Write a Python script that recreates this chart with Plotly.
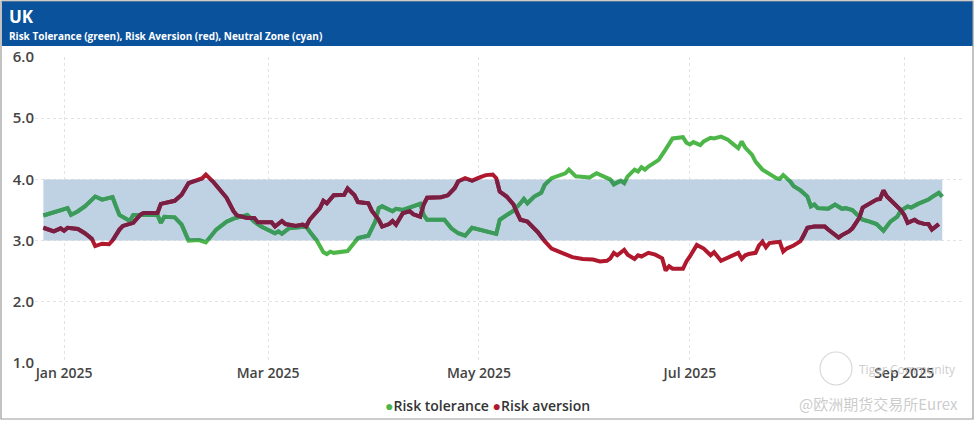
import plotly.graph_objects as go

# ---------------- data ----------------
tol_dates = ["2024-12-26","2024-12-30","2025-01-02","2025-01-03","2025-01-05","2025-01-07","2025-01-10","2025-01-12",
             "2025-01-15","2025-01-16","2025-01-17","2025-01-20","2025-01-21","2025-01-23","2025-01-28","2025-01-29",
             "2025-01-30","2025-02-02","2025-02-04","2025-02-06","2025-02-09","2025-02-11","2025-02-14","2025-02-17",
             "2025-02-19","2025-02-23","2025-02-25","2025-02-27","2025-03-02","2025-03-03","2025-03-04","2025-03-05",
             "2025-03-07","2025-03-11","2025-03-12","2025-03-13","2025-03-15","2025-03-17","2025-03-18","2025-03-19",
             "2025-03-20","2025-03-24","2025-03-27","2025-03-30","2025-04-01","2025-04-02","2025-04-03","2025-04-06",
             "2025-04-07","2025-04-09","2025-04-11","2025-04-14","2025-04-15","2025-04-16","2025-04-21","2025-04-23",
             "2025-04-25","2025-04-27","2025-04-29","2025-05-01","2025-05-03","2025-05-05","2025-05-06","2025-05-07",
             "2025-05-09","2025-05-11","2025-05-13","2025-05-14","2025-05-15","2025-05-17","2025-05-19","2025-05-20",
             "2025-05-22","2025-05-25","2025-05-26","2025-05-27","2025-05-29","2025-06-02","2025-06-04","2025-06-06",
             "2025-06-08","2025-06-09","2025-06-11","2025-06-12","2025-06-13","2025-06-15","2025-06-16","2025-06-17",
             "2025-06-18","2025-06-19","2025-06-22","2025-06-24","2025-06-26","2025-06-29","2025-06-30","2025-07-01",
             "2025-07-02","2025-07-04","2025-07-05","2025-07-07","2025-07-08","2025-07-10","2025-07-12","2025-07-13",
             "2025-07-15","2025-07-16","2025-07-17","2025-07-19","2025-07-20","2025-07-22","2025-07-24","2025-07-26",
             "2025-07-27","2025-07-28","2025-07-30","2025-07-31","2025-08-02","2025-08-04","2025-08-05","2025-08-06",
             "2025-08-07","2025-08-10","2025-08-12","2025-08-14","2025-08-15","2025-08-17","2025-08-19","2025-08-20",
             "2025-08-22","2025-08-24","2025-08-26","2025-08-27","2025-08-28","2025-08-30","2025-08-31","2025-09-02",
             "2025-09-03","2025-09-05","2025-09-07","2025-09-08","2025-09-09","2025-09-11","2025-09-12"]
tol_values = [3.41,3.47,3.53,3.42,3.48,3.56,3.72,3.67,
              3.71,3.56,3.42,3.32,3.42,3.42,3.42,3.29,
              3.39,3.38,3.26,3.00,3.01,2.97,3.18,3.31,
              3.36,3.42,3.31,3.23,3.15,3.12,3.15,3.11,
              3.20,3.23,3.23,3.15,3.01,2.81,2.78,2.82,
              2.80,2.83,3.04,3.08,3.31,3.53,3.56,3.48,
              3.52,3.50,3.54,3.60,3.42,3.34,3.34,3.20,
              3.12,3.08,3.21,3.18,3.16,3.12,3.11,3.34,
              3.41,3.49,3.61,3.68,3.61,3.72,3.78,3.91,
              4.02,4.07,4.10,4.16,4.05,4.03,4.10,4.05,
              4.00,3.92,3.98,3.94,4.05,4.16,4.13,4.20,
              4.16,4.21,4.32,4.49,4.67,4.69,4.60,4.57,
              4.61,4.56,4.62,4.68,4.67,4.70,4.65,4.60,
              4.51,4.62,4.52,4.40,4.29,4.16,4.08,4.02,
              4.01,4.07,3.97,3.89,3.82,3.72,3.56,3.59,
              3.53,3.52,3.59,3.52,3.53,3.50,3.39,3.34,
              3.31,3.27,3.16,3.23,3.31,3.39,3.49,3.56,
              3.54,3.60,3.64,3.67,3.71,3.78,3.72]

av_dates = ["2024-12-26","2024-12-29","2024-12-31","2025-01-01","2025-01-02","2025-01-05","2025-01-07","2025-01-09",
            "2025-01-10","2025-01-12","2025-01-14","2025-01-15","2025-01-17","2025-01-18","2025-01-21","2025-01-23",
            "2025-01-24","2025-01-28","2025-01-29","2025-02-02","2025-02-04","2025-02-06","2025-02-10","2025-02-11",
            "2025-02-13","2025-02-15","2025-02-17","2025-02-19","2025-02-20","2025-02-23","2025-02-25","2025-02-26",
            "2025-03-02","2025-03-03","2025-03-05","2025-03-06","2025-03-09","2025-03-11","2025-03-12","2025-03-13",
            "2025-03-16","2025-03-17","2025-03-18","2025-03-20","2025-03-23","2025-03-24","2025-03-26","2025-03-27",
            "2025-03-30","2025-03-31","2025-04-02","2025-04-03","2025-04-05","2025-04-06","2025-04-07","2025-04-09",
            "2025-04-11","2025-04-12","2025-04-14","2025-04-15","2025-04-16","2025-04-20","2025-04-22","2025-04-24",
            "2025-04-25","2025-04-27","2025-04-29","2025-05-01","2025-05-03","2025-05-05","2025-05-06","2025-05-07",
            "2025-05-09","2025-05-11","2025-05-12","2025-05-13","2025-05-15","2025-05-16","2025-05-18","2025-05-20",
            "2025-05-22","2025-05-25","2025-05-28","2025-05-31","2025-06-03","2025-06-05","2025-06-07","2025-06-08",
            "2025-06-09","2025-06-10","2025-06-12","2025-06-13","2025-06-15","2025-06-16","2025-06-17","2025-06-19",
            "2025-06-21","2025-06-23","2025-06-24","2025-06-25","2025-06-26","2025-06-29","2025-06-30","2025-07-01",
            "2025-07-03","2025-07-04","2025-07-05","2025-07-07","2025-07-08","2025-07-10","2025-07-12","2025-07-13",
            "2025-07-15","2025-07-16","2025-07-17","2025-07-18","2025-07-20","2025-07-21","2025-07-22","2025-07-23",
            "2025-07-24","2025-07-27","2025-07-28","2025-07-29","2025-07-31","2025-08-02","2025-08-03","2025-08-04",
            "2025-08-06","2025-08-09","2025-08-10","2025-08-12","2025-08-13","2025-08-14","2025-08-16","2025-08-17",
            "2025-08-19","2025-08-20","2025-08-22","2025-08-24","2025-08-25","2025-08-26","2025-08-27","2025-08-29",
            "2025-08-31","2025-09-01","2025-09-02","2025-09-04","2025-09-05","2025-09-07","2025-09-08","2025-09-09",
            "2025-09-11"]
av_values = [3.21,3.15,3.20,3.16,3.21,3.19,3.12,3.03,
             2.91,2.95,2.94,3.00,3.18,3.24,3.29,3.42,
             3.45,3.45,3.60,3.65,3.75,3.94,4.02,4.08,
             3.97,3.83,3.70,3.48,3.41,3.37,3.37,3.30,
             3.30,3.23,3.32,3.27,3.24,3.26,3.23,3.34,
             3.53,3.65,3.61,3.74,3.75,3.85,3.74,3.63,
             3.61,3.49,3.34,3.23,3.27,3.32,3.26,3.45,
             3.48,3.43,3.39,3.59,3.70,3.71,3.74,3.86,
             3.97,4.02,3.98,4.03,4.07,4.08,4.02,3.80,
             3.72,3.59,3.45,3.34,3.31,3.26,3.14,2.99,
             2.87,2.80,2.73,2.70,2.69,2.66,2.67,2.71,
             2.80,2.76,2.85,2.77,2.70,2.76,2.74,2.80,
             2.77,2.71,2.51,2.58,2.54,2.54,2.66,2.74,
             2.93,2.90,2.87,2.76,2.81,2.67,2.72,2.76,
             2.80,2.70,2.76,2.78,2.80,2.92,2.98,2.89,
             2.96,2.98,2.82,2.87,2.92,2.99,3.09,3.21,
             3.23,3.23,3.18,3.09,3.05,3.09,3.15,3.20,
             3.37,3.54,3.60,3.67,3.68,3.82,3.72,3.61,
             3.50,3.42,3.29,3.34,3.30,3.27,3.27,3.18,
             3.27]

neutral_low, neutral_high = 3.0, 4.0
y_min, y_max = 1.0, 6.0
series_names = ["Risk tolerance", "Risk aversion"]
title_text = "UK"
subtitle_text = "Risk Tolerance (green), Risk Aversion (red), Neutral Zone (cyan)"

# ---------------- styling ----------------
W, H = 975, 423
ML, MR, MT, MB = 35, 12, 57, 60
PW, PH = W - ML - MR, H - MT - MB
GREEN, GREEN_IN = "#4DB649", "#3C9A5C"
RED, RED_IN = "#B0192D", "#7A1F44"
BAND = "#BFD2E4"
GRID = "#e3e3e3"
FONT = "Open Sans"
X_RANGE = ["2024-12-23 14:00", "2025-09-18"]


def px(x):
    return (x - ML) / PW


def py(y):
    return (H - MB - y) / PH


fig = go.Figure()
# full lines (outside-band colour)
fig.add_trace(go.Scatter(x=tol_dates, y=tol_values, mode="lines", name=series_names[0],
                         line=dict(color=GREEN, width=4), showlegend=False))
fig.add_trace(go.Scatter(x=av_dates, y=av_values, mode="lines", name=series_names[1],
                         line=dict(color=RED, width=4), showlegend=False))
# same lines on an overlay subplot limited to the neutral zone (darker tint inside the band)
fig.add_trace(go.Scatter(x=tol_dates, y=tol_values, mode="lines", name=series_names[0],
                         line=dict(color=GREEN_IN, width=4), showlegend=False,
                         xaxis="x2", yaxis="y2", hoverinfo="skip"))
fig.add_trace(go.Scatter(x=av_dates, y=av_values, mode="lines", name=series_names[1],
                         line=dict(color=RED_IN, width=4), showlegend=False,
                         xaxis="x2", yaxis="y2", hoverinfo="skip"))

band_dom = [(neutral_low - y_min) / (y_max - y_min), (neutral_high - y_min) / (y_max - y_min)]

shapes = [
    # neutral zone
    dict(type="rect", xref="x", yref="y", x0=tol_dates[0], x1=tol_dates[-1],
         y0=neutral_low, y1=neutral_high, fillcolor=BAND,
         line=dict(width=0), layer="between"),
    # header bar
    dict(type="rect", xref="paper", yref="paper", x0=px(2), x1=px(973), y0=py(46), y1=py(1),
         fillcolor="#0A529C", line=dict(width=0), layer="below"),
    # outer frame
    dict(type="rect", xref="paper", yref="paper", x0=px(1), x1=px(973), y0=py(419), y1=py(1),
         fillcolor="rgba(0,0,0,0)", line=dict(color="#9a9a9a", width=1.2), layer="below"),
    # watermark logo circle
    dict(type="circle", xref="paper", yref="paper", x0=px(820), x1=px(852), y0=py(385), y1=py(352),
         fillcolor="rgba(0,0,0,0)", line=dict(color="rgba(200,200,200,0.7)", width=1.2), layer="above"),
]

annotations = [
    dict(text="<b>" + title_text + "</b>", xref="paper", yref="paper", x=px(7), y=py(16),
         xanchor="left", yanchor="middle", showarrow=False,
         font=dict(family=FONT, size=17, color="white")),
    dict(text="<b>" + subtitle_text + "</b>", xref="paper", yref="paper", x=px(7), y=py(36),
         xanchor="left", yanchor="middle", showarrow=False,
         font=dict(family=FONT, size=10, color="white")),
    dict(text=f"<span style='color:{GREEN}'>●</span>{series_names[0]} "
              f"<span style='color:{RED}'>●</span>{series_names[1]}",
         xref="paper", yref="paper", x=px(487), y=py(405), xanchor="center", yanchor="middle",
         showarrow=False, font=dict(family=FONT, size=14, color="#333333", weight=600)),
    dict(text="Tiger Community", xref="paper", yref="paper", x=px(857), y=py(369),
         xanchor="left", yanchor="middle", showarrow=False,
         font=dict(family=FONT, size=12, color="rgba(190,190,190,0.8)")),
    dict(text="@欧洲期货交易所Eurex", xref="paper", yref="paper", x=px(960), y=py(403),
         xanchor="right", yanchor="middle", showarrow=False,
         font=dict(family="Noto Sans CJK SC", size=15, color="rgba(190,190,190,0.8)")),
]

fig.update_layout(
    width=W, height=H,
    margin=dict(l=ML, r=MR, t=MT, b=MB),
    paper_bgcolor="white", plot_bgcolor="rgba(0,0,0,0)",
    shapes=shapes, annotations=annotations, showlegend=False,
    xaxis=dict(type="date", range=X_RANGE,
               tick0="2025-01-01", dtick="M2", tickformat="%b %Y",
               showgrid=True, gridcolor=GRID, griddash="dot", gridwidth=1,
               zeroline=False, showline=False, ticks="",
               tickfont=dict(family=FONT, size=14, color="#444444", weight=600)),
    yaxis=dict(range=[y_min, y_max], dtick=1, tickformat=".1f",
               showgrid=True, gridcolor=GRID, griddash="dot", gridwidth=1,
               zeroline=False, showline=False, ticks="",
               tickfont=dict(family=FONT, size=15, color="#444444", weight=600)),
    xaxis2=dict(type="date", range=X_RANGE, matches="x", anchor="y2", overlaying="x",
                visible=False, showgrid=False, zeroline=False),
    yaxis2=dict(range=[neutral_low, neutral_high], domain=band_dom, anchor="x2",
                visible=False, showgrid=False, zeroline=False),
)

fig.write_html("out.html", config={"displayModeBar": False},
               post_script="document.body.style.margin='0px';")
